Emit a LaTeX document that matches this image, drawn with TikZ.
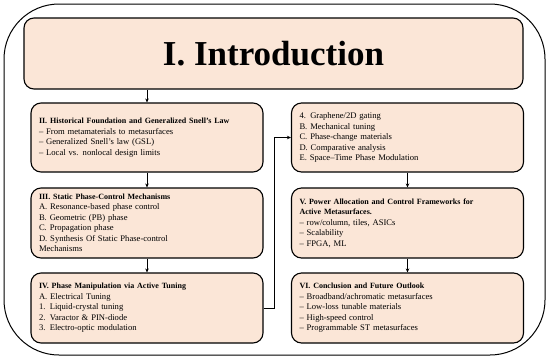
\documentclass[tikz,border=0pt]{standalone}
\usepackage{fontspec}
\setmainfont{Liberation Serif}
\usepackage{tikz}
\usetikzlibrary{arrows.meta, positioning, calc}

\definecolor{peach}{HTML}{FBE6D7}
\newcommand{\hd}[1]{{\fontsize{8}{10.5}\selectfont\bfseries #1}}

\begin{document}
\begin{tikzpicture}[x=1pt, y=-1pt, >={Stealth[length=4pt, width=3.5pt]},
    secbox/.style={draw=black, line width=1.1pt, fill=peach, rounded corners=10pt,
      text width=216pt, inner xsep=8pt, align=left,
      font=\fontsize{8.6}{10.5}\selectfont},
    titlebox/.style={draw=black, line width=1.1pt, fill=peach, rounded corners=10pt,
      minimum width=499pt, minimum height=71pt,
      font=\fontsize{35}{40}\selectfont\bfseries},
    arr/.style={->, line width=0.9pt}]
  \useasboundingbox (0,0) rectangle (550,360);
  % outer frame
  \draw[line width=1pt, rounded corners=55pt] (4,4) rectangle (545,355);
  % title
  \node[titlebox] (intro) at (273.5,53.5) {I. Introduction};
  % ---------------- left column ----------------
  \node[secbox, minimum height=69pt] (hist) at (147,137.5)
    {\hd{II. Historical Foundation and Generalized Snell’s Law}\\
     – From metamaterials to metasurfaces\\
     – Generalized Snell’s law (GSL)\\
     – Local vs. nonlocal design limits};
  \node[secbox, minimum height=70pt] (static) at (147,223)
    {\hd{III. Static Phase-Control Mechanisms}\\
     A. Resonance-based phase control\\
     B. Geometric (PB) phase\\
     C. Propagation phase\\
     D. Synthesis Of Static Phase-control\\
     Mechanisms};
  \node[secbox, minimum height=70pt] (active) at (147,308)
    {\hd{IV. Phase Manipulation via Active Tuning}\\
     A. Electrical Tuning\\
     1. Liquid-crystal tuning\\
     2. Varactor \& PIN-diode\\
     3. Electro-optic modulation};
  % ---------------- right column ----------------
  \node[secbox, minimum height=69pt] (activecont) at (407.5,137.5)
    {4. Graphene/2D gating\\
     B. Mechanical tuning\\
     C. Phase-change materials\\
     D. Comparative analysis\\
     E. Space–Time Phase Modulation\\[4pt]};
  \node[secbox, minimum height=70pt] (power) at (407.5,223)
    {\hd{V. Power Allocation and Control Frameworks for}\\
     \hd{Active Metasurfaces.}\\
     – row/column, tiles, ASICs\\
     – Scalability\\
     – FPGA, ML};
  \node[secbox, minimum height=70pt] (outlook) at (407.5,308)
    {\hd{VI. Conclusion and Future Outlook}\\
     – Broadband/achromatic metasurfaces\\
     – Low-loss tunable materials\\
     – High-speed control\\
     – Programmable ST metasurfaces};
  % connectors
  \draw[arr] (intro.south -| hist.north) -- (hist.north);
  \draw[arr] (hist) -- (static);
  \draw[arr] (static) -- (active);
  \draw[arr] (active.east) -- ++(11,0) |- (activecont.west);
  \draw[arr] (activecont) -- (power);
  \draw[arr] (power) -- (outlook);
\end{tikzpicture}
\end{document}
